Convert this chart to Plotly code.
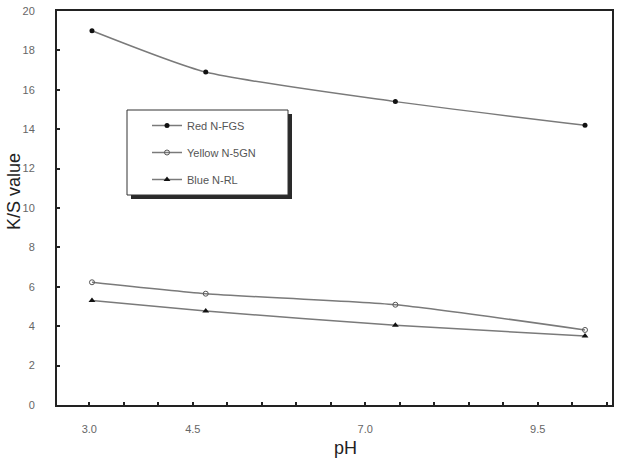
import plotly.graph_objects as go

ph = [3.0, 4.5, 7.0, 9.5]
red_nfgs = [19.0, 16.9, 15.4, 14.2]
yellow_n5gn = [6.23, 5.65, 5.09, 3.81]
blue_nrl = [5.31, 4.77, 4.05, 3.50]
tick_vals = [3.0, 4.5, 7.0, 9.5]
tick_text = ["3.0", "4.5", "7.0", "9.5"]

series = [
    ("Red N-FGS", red_nfgs, dict(symbol="circle", size=5, color="#111111")),
    ("Yellow N-5GN", yellow_n5gn, dict(symbol="circle-open", size=5, color="#555555", line=dict(width=1, color="#555555"))),
    ("Blue N-RL", blue_nrl, dict(symbol="triangle-up", size=6, color="#111111")),
]

fig = go.Figure()
for i, (name, vals, mk) in enumerate(series):
    fig.add_trace(go.Scatter(
        x=ph, y=vals, name=name, mode="lines+markers",
        line=dict(color="#7a7a7a", width=1.5, shape="spline", smoothing=0.6),
        marker=mk, legendgroup=f"g{i}",
    ))

# invisible helper trace to anchor the tick-label axis
fig.add_trace(go.Scatter(x=ph, y=red_nfgs, xaxis="x2", mode="markers",
                         marker=dict(opacity=0), showlegend=False, hoverinfo="skip"))

W, H = 623, 460
L, R, T, B = 57, 11, 11, 55
pw, ph_px = W - L - R, H - T - B


def px(x):
    return (x - L) / pw


def py(y):
    return (H - B - y) / ph_px


font_fam = "Liberation Sans, Arial, sans-serif"
fig.update_layout(
    width=W, height=H,
    margin=dict(l=L, r=R, t=T, b=B, autoexpand=False),
    paper_bgcolor="white", plot_bgcolor="white",
    font=dict(family=font_fam, color="#555555"),
    xaxis=dict(range=[2.539, 9.856], showticklabels=False, ticks="",
               showgrid=False, zeroline=False, showline=True, linewidth=2,
               linecolor="#222222", mirror=True, automargin=False),
    xaxis2=dict(range=[2.532, 10.577], overlaying="x", anchor="y", side="bottom",
                tickvals=tick_vals, ticktext=tick_text, ticks="inside", ticklen=3,
                tickcolor="#222222", tickwidth=1.5, automargin=False,
                minor=dict(dtick=0.5, tick0=3.0, ticks="inside", ticklen=3,
                           tickcolor="#222222", tickwidth=1.5, showgrid=False),
                showgrid=False, zeroline=False, showline=False,
                tickfont=dict(size=11, color="#666666"), ticklabelstandoff=16),
    yaxis=dict(range=[0, 20], dtick=2, ticks="inside", ticklen=3, tickwidth=1.5,
               tickcolor="#222222", showgrid=False, zeroline=False, showline=True,
               linewidth=2, linecolor="#222222", mirror=True, automargin=False,
               tickfont=dict(size=11, color="#666666"), ticklabelstandoff=18),
    legend=dict(x=px(147), y=py(111), xanchor="left", yanchor="top",
                bgcolor="rgba(0,0,0,0)", borderwidth=0,
                font=dict(size=11, color="#555555"), tracegroupgap=8,
                itemwidth=30),
    showlegend=True,
)

fig.add_annotation(text="K/S value", xref="paper", yref="paper",
                   x=px(14), y=py(192), textangle=-90,
                   showarrow=False, xanchor="center", yanchor="middle",
                   font=dict(size=18, color="#222222"))
fig.add_annotation(text="pH", xref="paper", yref="paper",
                   x=px(345), y=py(448), showarrow=False,
                   xanchor="center", yanchor="middle",
                   font=dict(size=18, color="#222222"))

# legend drop shadow and box
fig.add_shape(type="rect", xref="paper", yref="paper",
              x0=px(131), x1=px(292), y0=py(199), y1=py(114),
              fillcolor="#2a2a2a", line=dict(width=0), layer="above")
fig.add_shape(type="rect", xref="paper", yref="paper",
              x0=px(127), x1=px(288), y0=py(195), y1=py(110),
              fillcolor="white", line=dict(width=1, color="#333333"), layer="above")

fig.write_html("out.html")
